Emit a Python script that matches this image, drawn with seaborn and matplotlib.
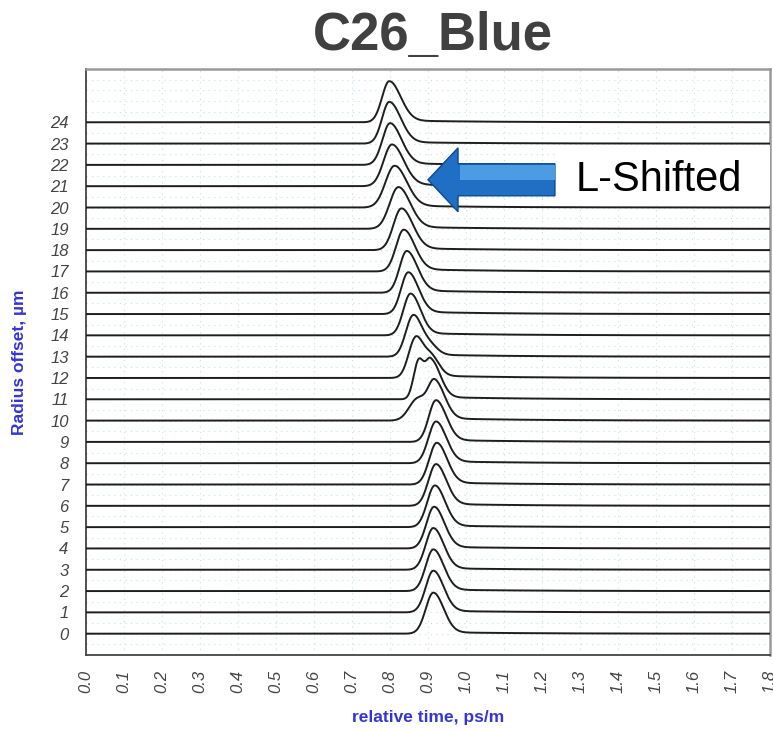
import numpy as np
import pandas as pd
import matplotlib
matplotlib.use('Agg')
import matplotlib.pyplot as plt
from matplotlib.patches import FancyArrow, Rectangle
from matplotlib.ticker import MultipleLocator, FixedLocator, FixedFormatter
import seaborn as sns

sns.set_style('white')
plt.rcParams['font.family'] = ['Liberation Sans', 'DejaVu Sans']

# radius offset of each trace (um)
radius = list(range(25))
# main pulse: peak time (ps/m), rise / fall widths, peak height (in trace units)
peak_time = [0.914, 0.914, 0.914, 0.914, 0.916, 0.918, 0.921, 0.923, 0.921, 0.921,
             0.918, 0.907, 0.866, 0.860, 0.854, 0.848, 0.844, 0.836, 0.830, 0.822,
             0.812, 0.805, 0.800, 0.798, 0.798]
rise_width = [0.020, 0.020, 0.020, 0.020, 0.020, 0.020, 0.020, 0.020, 0.020, 0.019,
              0.018, 0.014, 0.018, 0.019, 0.019, 0.019, 0.019, 0.020, 0.021, 0.023,
              0.024, 0.022, 0.020, 0.019, 0.019]
fall_width = [0.027, 0.027, 0.027, 0.027, 0.027, 0.027, 0.027, 0.027, 0.027, 0.027,
              0.026, 0.025, 0.018, 0.021, 0.026, 0.027, 0.028, 0.029, 0.030, 0.031,
              0.032, 0.031, 0.030, 0.030, 0.030]
peak_height = [1.92, 1.95, 1.95, 1.95, 1.95, 1.95, 1.95, 1.95, 1.95, 1.95,
               1.95, 1.95, 1.95, 1.95, 1.95, 1.95, 1.95, 1.95, 1.95, 1.95,
               1.95, 1.95, 1.95, 1.95, 1.92]
# secondary bump / shoulder of the pulse
second_time = [0, 0, 0, 0, 0, 0, 0, 0, 0, 0,
               0.872, 0.875, 0.905, 0.900, 0, 0, 0, 0, 0, 0,
               0, 0, 0, 0, 0]
second_amp = [0, 0, 0, 0, 0, 0, 0, 0, 0, 0,
              0.55, 0.95, 0.60, 0.30, 0, 0, 0, 0, 0, 0,
              0, 0, 0, 0, 0]
second_width = [0.02, 0.02, 0.02, 0.02, 0.02, 0.02, 0.02, 0.02, 0.02, 0.02,
                0.022, 0.013, 0.022, 0.022, 0.02, 0.02, 0.02, 0.02, 0.02, 0.02,
                0.02, 0.02, 0.02, 0.02, 0.02]
# slow trailing level after the pulse (fraction of peak)
tail_level = [0.04, 0.04, 0.04, 0.04, 0.04, 0.04, 0.05, 0.05, 0.05, 0.05,
              0.06, 0.06, 0.07, 0.06, 0.06, 0.06, 0.06, 0.06, 0.05, 0.05,
              0.05, 0.05, 0.04, 0.04, 0.05]

time = np.linspace(0, 1.8, 1500)


def half_gauss(t, c, wl, wr):
    w = np.where(t < c, wl, wr)
    return np.exp(-0.5 * ((t - c) / w) ** 2)


rows = []
for i, r in enumerate(radius):
    p = half_gauss(time, peak_time[i], rise_width[i], fall_width[i])
    if second_amp[i] > 0:
        p = p + second_amp[i] * np.exp(-0.5 * ((time - second_time[i]) / second_width[i]) ** 2)
    p = p / p.max()
    tail = tail_level[i] / (1 + np.exp(-(time - peak_time[i] - 0.035) / 0.015)) \
        * np.exp(-np.clip(time - peak_time[i], 0, None) / 0.22)
    sig = r + peak_height[i] * (p + tail)
    rows.append(pd.DataFrame({'time': time, 'signal': sig, 'radius': r}))
df = pd.concat(rows, ignore_index=True)

fig = plt.figure(figsize=(7.73, 7.31), dpi=100)
ax = fig.add_axes([86 / 773, 76 / 731, 684 / 773, 586 / 731])

sns.lineplot(data=df, x='time', y='signal', units='radius', estimator=None,
             color='#1e1e1e', lw=1.4, ax=ax, legend=False, zorder=3)

ax.set_xlim(0, 1.8)
ax.set_ylim(-1, 26.5)

ax.xaxis.set_major_locator(MultipleLocator(0.1))
ax.xaxis.set_minor_locator(MultipleLocator(0.02))
ax.set_xticklabels([f'{v:.1f}' for v in ax.get_xticks()])
ax.yaxis.set_major_locator(FixedLocator(list(range(27))))
ax.yaxis.set_major_formatter(FixedFormatter([str(v) for v in radius] + ['', '']))
ax.yaxis.set_minor_locator(MultipleLocator(0.5))

ax.tick_params(axis='both', which='major', direction='inout', length=9, width=1,
               color='#444444', labelcolor='#444444', labelsize=12)
ax.tick_params(axis='both', which='minor', direction='in', length=4, width=0.8,
               color='#555555')
ax.tick_params(axis='x', which='major', pad=6, labelrotation=90)
ax.tick_params(axis='y', which='major', pad=8)
for lab in ax.get_xticklabels() + ax.get_yticklabels():
    lab.set_fontstyle('italic')

ax.grid(axis='x', which='major', color='#bfe3ea', lw=0.8, ls=(0, (1, 4)))
ax.grid(axis='y', which='both', color='#bfe3ea', lw=0.8, ls=(0, (1, 4)))
ax.set_axisbelow(True)

for side in ['left', 'bottom']:
    ax.spines[side].set_color('#444444')
    ax.spines[side].set_linewidth(1.3)
for side in ['top', 'right']:
    ax.spines[side].set_color('#9a9a9a')
    ax.spines[side].set_linewidth(1.8)

ax.set_xlabel('relative time, ps/m', color='#3535d4', fontsize=12.5, fontweight='bold')
ax.set_ylabel('Radius offset, \u00b5m', color='#3535d4', fontsize=12.5, fontweight='bold')
ax.xaxis.set_label_coords(0.5, -0.094)
ax.yaxis.set_label_coords(-0.086, 0.5)

fig.text(433 / 773, 1 - 50 / 731, 'C26_Blue', ha='center', va='baseline',
         fontsize=38, fontweight='bold', color='#404040')

# callout: white box with label and blue arrow
ax.add_patch(Rectangle((1.234, 20.12), 0.566, 2.8, facecolor='white',
                       edgecolor='none', zorder=4))
ax.add_patch(FancyArrow(1.234, 21.3, -0.334, 0, width=1.5, head_width=3.0,
                        head_length=0.079, length_includes_head=True,
                        facecolor='#1f6fc4', edgecolor='#0c4a8c', lw=1.0, zorder=5))
ax.add_patch(Rectangle((0.985, 21.3), 0.249, 0.7, facecolor='#4c9be3',
                       edgecolor='none', zorder=6))
ax.text(1.507, 21.3, 'L-Shifted', ha='center', va='center', fontsize=30,
        color='black', zorder=7)

fig.savefig('out.png', dpi=100)
